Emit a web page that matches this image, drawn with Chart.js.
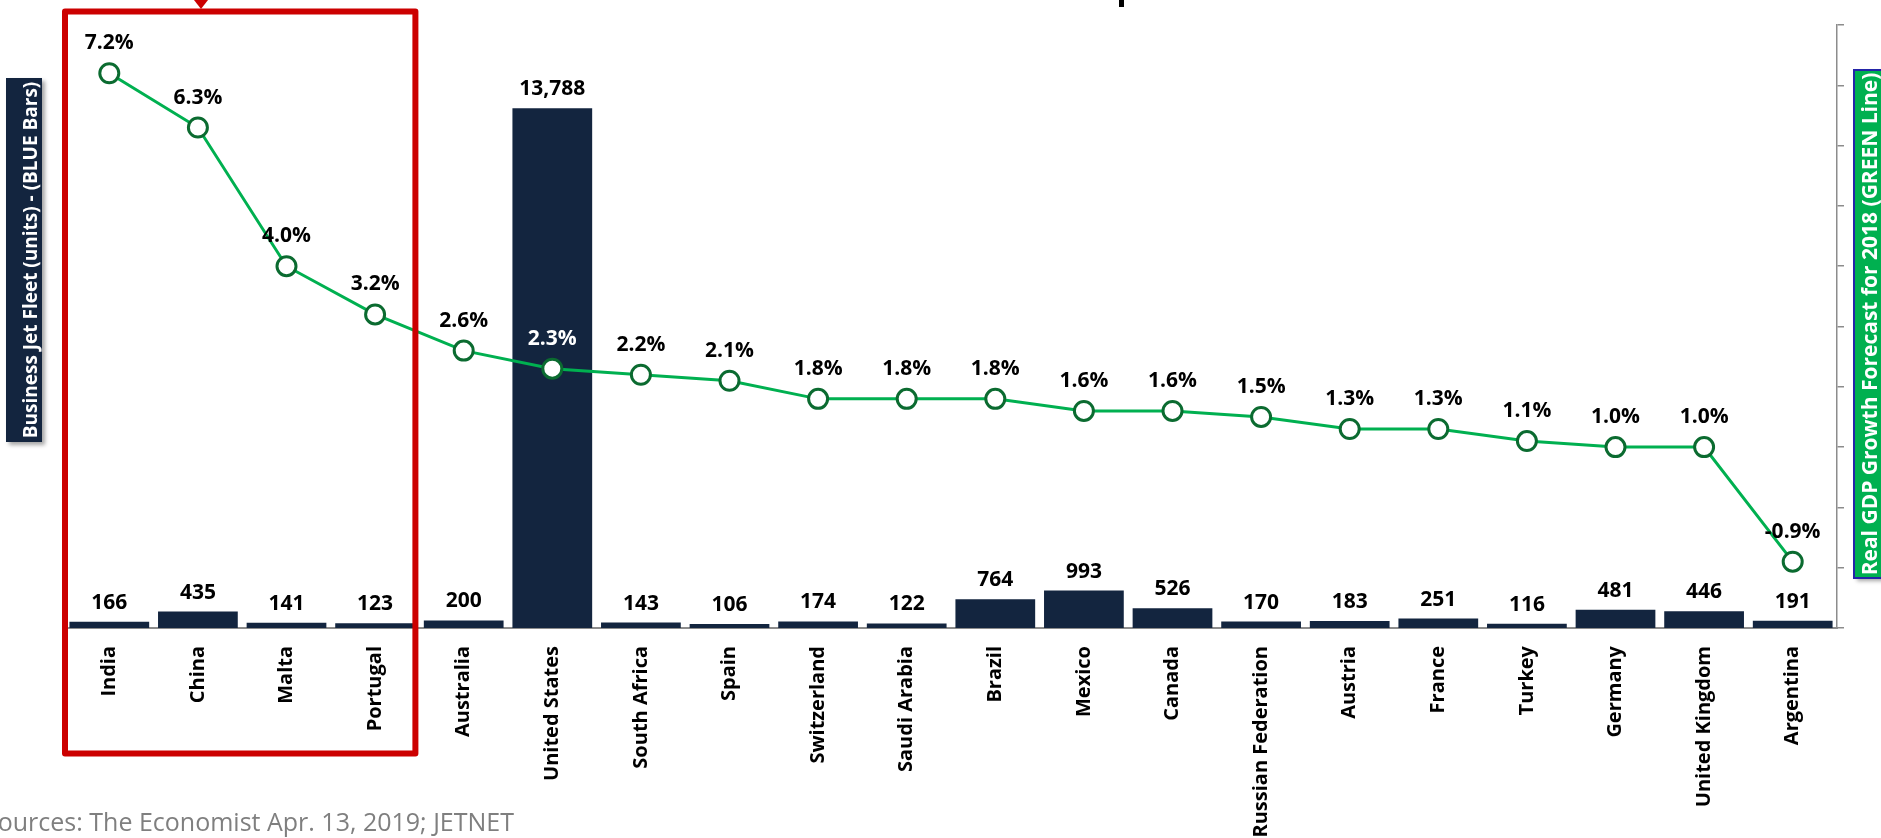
<!DOCTYPE html>
<html>
<head>
<meta charset="utf-8">
<script src="https://cdn.jsdelivr.net/npm/chart.js@4.4.1/dist/chart.umd.min.js"></script>
<style>
  html, body { margin: 0; padding: 0; background: #fff; }
  #wrap { width: 1881px; height: 838px; }
</style>
</head>
<body>
<div id="wrap"><canvas id="chart" width="1881" height="838"></canvas></div>
<script>
const countries = [
  "India", "China", "Malta", "Portugal", "Australia", "United States",
  "South Africa", "Spain", "Switzerland", "Saudi Arabia", "Brazil", "Mexico",
  "Canada", "Russian Federation", "Austria", "France", "Turkey", "Germany",
  "United Kingdom", "Argentina"
];
const fleetUnits = [166, 435, 141, 123, 200, 13788, 143, 106, 174, 122, 764, 993, 526, 170, 183, 251, 116, 481, 446, 191];
const gdpGrowth = [7.2, 6.3, 4.0, 3.2, 2.6, 2.3, 2.2, 2.1, 1.8, 1.8, 1.8, 1.6, 1.6, 1.5, 1.3, 1.3, 1.1, 1.0, 1.0, -0.9];

const fleetTitle = "Business Jet Fleet (units) - (BLUE Bars)";
const gdpTitle = "Real GDP Growth Forecast for 2018 (GREEN Line)";
const sourceNote = "Sources: The Economist Apr. 13, 2019; JETNET";

const NAVY = "#13253F";
const GREEN = "#00B050";
const LABEL_FONT = 'bold 21px "Open Sans"';

// numbers over the bars and the line points
const valueLabels = {
  id: "valueLabels",
  afterDatasetsDraw(chart) {
    const ctx = chart.ctx;
    const bars = chart.getDatasetMeta(0).data;
    const points = chart.getDatasetMeta(1).data;
    ctx.save();
    ctx.font = LABEL_FONT;
    ctx.textAlign = "center";
    ctx.textBaseline = "alphabetic";
    bars.forEach((bar, i) => {
      ctx.fillStyle = "#000";
      ctx.fillText(fleetUnits[i].toLocaleString("en-US"), bar.x, bar.y - 13);
    });
    points.forEach((pt, i) => {
      const y = pt.y - 24;
      // white when the label sits on top of a bar
      ctx.fillStyle = y > bars[i].y ? "#fff" : "#000";
      ctx.fillText(gdpGrowth[i].toFixed(1) + "%", pt.x, y);
    });
    ctx.restore();
  }
};

function sideTitle(ctx, text, box, textX, fill, border, font) {
  const [left, top, width, height] = box;
  ctx.save();
  ctx.shadowColor = "rgba(0,0,0,0.35)";
  ctx.shadowOffsetX = 3;
  ctx.shadowOffsetY = 3;
  ctx.shadowBlur = 4;
  ctx.fillStyle = fill;
  ctx.fillRect(left, top, width, height);
  ctx.restore();
  if (border) {
    ctx.save();
    ctx.strokeStyle = border;
    ctx.lineWidth = 2;
    ctx.strokeRect(left, top, width, height);
    ctx.restore();
  }
  ctx.save();
  ctx.translate(textX, top + height / 2);
  ctx.rotate(-Math.PI / 2);
  ctx.font = font;
  ctx.fillStyle = "#fff";
  ctx.textAlign = "center";
  ctx.textBaseline = "alphabetic";
  ctx.fillText(text, 0, 0);
  ctx.restore();
}

const decorations = {
  id: "decorations",
  afterDraw(chart) {
    const ctx = chart.ctx;
    const x = chart.scales.x;
    const half = x.width / countries.length / 2;

    ctx.save();
    // red frame round India..Portugal
    const left = x.getPixelForValue(0) - half;
    const right = x.getPixelForValue(3) + half - 4;
    ctx.strokeStyle = "#CC0000";
    ctx.lineWidth = 6;
    ctx.lineJoin = "round";
    ctx.strokeRect(left, 11.5, right - left, 742);

    // tip of the arrow coming from above
    ctx.fillStyle = "#CC0000";
    ctx.beginPath();
    ctx.moveTo(194, 0);
    ctx.lineTo(208, 0);
    ctx.lineTo(201, 9);
    ctx.closePath();
    ctx.fill();

    // bit of the cut-off title
    ctx.fillStyle = "#000";
    ctx.fillRect(1119, 0, 5, 7);

    // source line, first letter runs off the left edge
    ctx.font = '25px "Open Sans"';
    ctx.fillStyle = "#7F7F7F";
    ctx.textAlign = "right";
    ctx.textBaseline = "alphabetic";
    ctx.fillText(sourceNote, 514, 831);
    ctx.restore();

    sideTitle(ctx, fleetTitle, [6, 78, 36, 364], 37, NAVY, null, 'bold 19px "Open Sans"');
    sideTitle(ctx, gdpTitle, [1854, 70, 40, 508], 1877, GREEN, "#2424A8", 'bold 21px "Open Sans"');
  }
};

new Chart(document.getElementById("chart"), {
  data: {
    labels: countries,
    datasets: [
      {
        type: "bar",
        label: "Business Jet Fleet",
        data: fleetUnits,
        yAxisID: "y",
        backgroundColor: NAVY,
        categoryPercentage: 1,
        barPercentage: 0.9,
        order: 2
      },
      {
        type: "line",
        label: "Real GDP Growth",
        data: gdpGrowth,
        yAxisID: "y1",
        borderColor: GREEN,
        borderWidth: 3,
        pointRadius: 9.5,
        pointBorderWidth: 3,
        pointBorderColor: "#0B6B30",
        pointBackgroundColor: "#fff",
        tension: 0,
        clip: false,
        order: 1
      }
    ]
  },
  options: {
    responsive: false,
    animation: false,
    layout: { padding: { left: 65, right: 0, top: 25, bottom: 0 } },
    plugins: {
      legend: { display: false },
      tooltip: { enabled: false }
    },
    scales: {
      x: {
        grid: { display: false },
        border: { color: "#8C8C8C", width: 2 },
        ticks: {
          autoSkip: false,
          maxRotation: 90,
          minRotation: 90,
          padding: 10,
          color: "#000",
          font: { family: '"Open Sans"', weight: "bold", size: 20 }
        },
        afterFit(scale) { scale.height = 210; }
      },
      y: {
        display: false,
        min: 0,
        max: 16000
      },
      y1: {
        position: "right",
        min: -2,
        max: 8,
        ticks: { stepSize: 1, display: false },
        grid: { drawOnChartArea: false, drawTicks: true, tickLength: 7, color: "#8C8C8C", lineWidth: 1.5 },
        border: { color: "#8C8C8C", width: 1.5 },
        afterFit(scale) { scale.width = 44; }
      }
    }
  },
  plugins: [valueLabels, decorations]
});
</script>
</body>
</html>
